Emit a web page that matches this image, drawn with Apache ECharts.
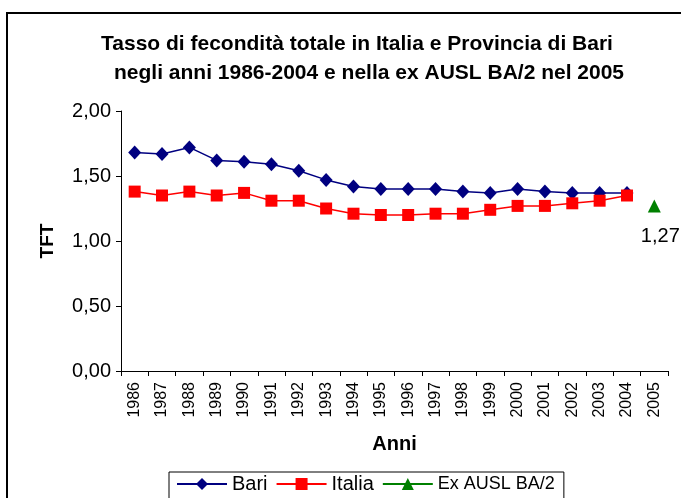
<!DOCTYPE html>
<html>
<head>
<meta charset="utf-8">
<script src="https://cdn.jsdelivr.net/npm/echarts@6/dist/echarts.min.js"></script>
<style>
html,body{margin:0;padding:0;background:#fff;}
#c{width:681px;height:498px;}
</style>
</head>
<body>
<div id="c"></div>
<script>
var years = ['1986','1987','1988','1989','1990','1991','1992','1993','1994','1995','1996','1997','1998','1999','2000','2001','2002','2003','2004','2005'];
var bari = [1.68,1.67,1.72,1.62,1.61,1.59,1.54,1.47,1.42,1.40,1.40,1.40,1.38,1.37,1.40,1.38,1.37,1.37,1.37,null];
var italia = [1.38,1.35,1.38,1.35,1.37,1.31,1.31,1.25,1.21,1.20,1.20,1.21,1.21,1.24,1.27,1.27,1.29,1.31,1.35,null];
var exAusl = [null,null,null,null,null,null,null,null,null,null,null,null,null,null,null,null,null,null,null,1.27];
var yTicks = [0,0.5,1,1.5,2];

var font = '"Liberation Sans", Arial, sans-serif';
var chart = echarts.init(document.getElementById('c'));
function fmt(v){ return v.toFixed(2).replace('.', ','); }
chart.setOption({
  animation: false,
  textStyle: {fontFamily: font},
  graphic: [
    {type:'rect', shape:{x:7, y:13, width:700, height:520}, style:{fill:'none', stroke:'#000', lineWidth:2}, z:-1},
    {type:'text', x:357, y:44, style:{text:'Tasso di fecondità totale in Italia e Provincia di Bari', font:'bold 21px ' + font, fill:'#000', align:'center', verticalAlign:'middle'}},
    {type:'text', x:369, y:73, style:{text:'negli anni 1986-2004 e nella ex AUSL BA/2 nel 2005', font:'bold 21px ' + font, fill:'#000', align:'center', verticalAlign:'middle'}}
  ],
  grid: {left:121, top:111, right:13, bottom:127, containLabel:false},
  legend: {
    left:169, top:472,
    itemWidth:50, itemHeight:15, itemGap:8,
    padding:[2,9,10,7],
    borderColor:'#000', borderWidth:1, borderRadius:0,
    textStyle:{fontSize:20, color:'#000', fontFamily:font},
    data:['Bari','Italia',{name:'Ex AUSL BA/2', textStyle:{fontSize:18}}]
  },
  xAxis: {
    type:'category', data:years, boundaryGap:true,
    name:'Anni', nameLocation:'middle', nameGap:63,
    nameTextStyle:{fontWeight:'bold', fontSize:20, color:'#000'},
    axisLine:{lineStyle:{color:'#000', width:1}},
    axisTick:{show:true, length:5, lineStyle:{color:'#000'}},
    axisLabel:{rotate:90, fontSize:16, color:'#000', margin:11, interval:0},
    splitLine:{show:false}
  },
  yAxis: {
    type:'value', min:0, max:2, interval:0.5,
    name:'TFT', nameLocation:'middle', nameGap:64, nameRotate:90,
    nameTextStyle:{fontWeight:'bold', fontSize:19, color:'#000'},
    axisLine:{show:true, lineStyle:{color:'#000', width:1}},
    axisTick:{show:true, length:5, lineStyle:{color:'#000'}},
    axisLabel:{fontSize:20, color:'#000', margin:10, formatter:function(v){ return fmt(v); }},
    splitLine:{show:false}
  },
  series: [
    {name:'Bari', type:'line', data:bari, symbol:'diamond', symbolSize:[13,14],
     lineStyle:{color:'#000080', width:1.5}, itemStyle:{color:'#000080'}, z:2},
    {name:'Italia', type:'line', data:italia, symbol:'rect', symbolSize:12,
     lineStyle:{color:'#FF0000', width:1.5}, itemStyle:{color:'#FF0000'}, z:3},
    {name:'Ex AUSL BA/2', type:'line', data:exAusl, symbol:'triangle', symbolSize:13,
     showAllSymbol:true,
     lineStyle:{color:'#008000', width:1.5}, itemStyle:{color:'#008000'},
     label:{show:true, position:'bottom', distance:14, offset:[6,0], fontSize:20, color:'#000',
            formatter:function(p){ return p.value == null ? '' : fmt(p.value); }}, z:4}
  ]
});
</script>
</body>
</html>
